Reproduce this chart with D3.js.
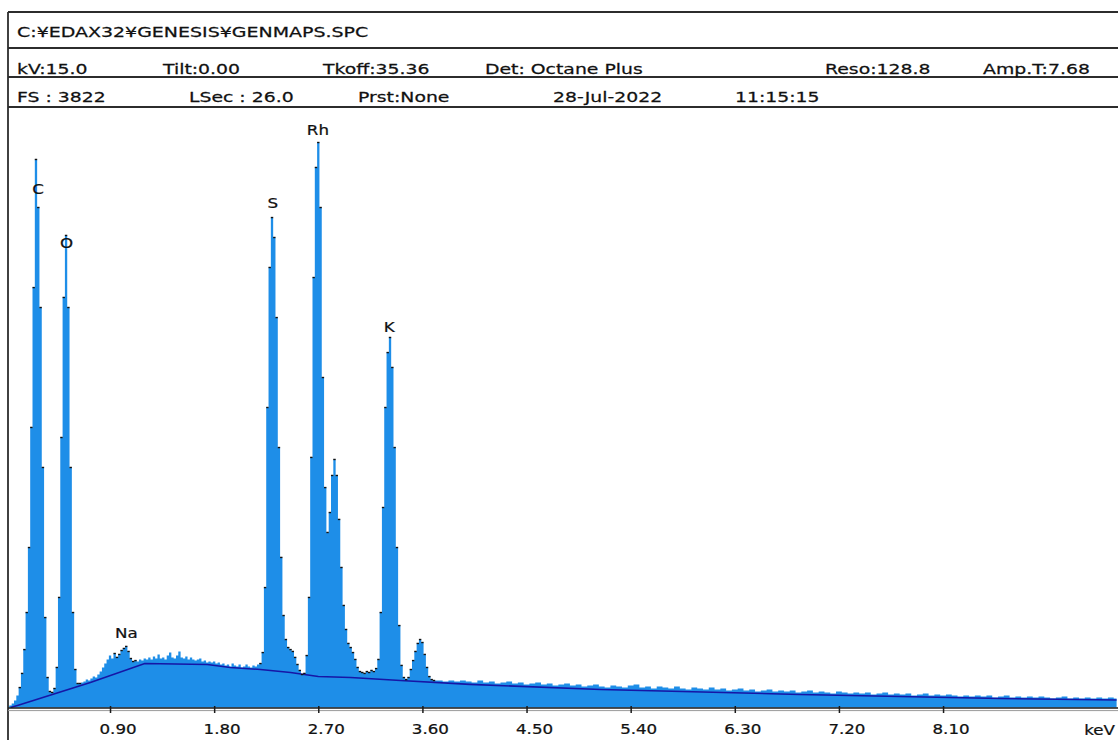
<!DOCTYPE html>
<html>
<head>
<meta charset="utf-8">
<script src="https://cdn.jsdelivr.net/npm/d3@7"></script>
<style>
  body { margin: 0; background: #fff; }
  svg { display: block; font-family: "DejaVu Sans", Verdana, sans-serif; }
</style>
</head>
<body>
<div id="chart"></div>
<script>
// header texts
const titleText = "C:¥EDAX32¥GENESIS¥GENMAPS.SPC";
const infoRow1 = ["kV:15.0", "Tilt:0.00", "Tkoff:35.36", "Det: Octane Plus", "Reso:128.8", "Amp.T:7.68"];
const infoRow2 = ["FS : 3822", "LSec : 26.0", "Prst:None", "28-Jul-2022", "11:15:15"];
const fullScale = 3822;

// x axis ticks (keV)
const tickValues = [0.90, 1.80, 2.70, 3.60, 4.50, 5.40, 6.30, 7.20, 8.10];
const tickLabels = ["0.90", "1.80", "2.70", "3.60", "4.50", "5.40", "6.30", "7.20", "8.10"];
const unitLabel = "keV";

// spectrum counts, channels 0.02 .. 3.70 keV every 0.02 keV
const lowStep = 0.02;
const lowCounts = [
  6, 13, 25, 45, 76, 127, 217, 369, 605, 1019,
  1784, 2675, 3491, 3185, 2548, 1529, 573, 191, 102, 96,
  121, 255, 701, 1720, 2612, 3007, 2548, 1529, 605, 242,
  153, 153, 159, 166, 178, 172, 185, 197, 191, 210,
  229, 255, 280, 306, 331, 312, 344, 319, 338, 363,
  376, 389, 357, 312, 293, 299, 293, 306, 299, 312,
  306, 319, 306, 325, 312, 338, 312, 319, 306, 331,
  350, 319, 312, 331, 357, 319, 312, 325, 306, 319,
  306, 299, 306, 312, 293, 299, 287, 293, 287, 293,
  280, 287, 274, 280, 268, 274, 261, 280, 268, 261,
  274, 255, 261, 274, 261, 255, 268, 261, 274, 280,
  350, 764, 1911, 2803, 3121, 2994, 2484, 1656, 956, 586,
  433, 382, 369, 357, 319, 274, 236, 210, 217, 331,
  701, 1593, 2739, 3440, 3599, 3185, 2102, 1401, 1115, 1242,
  1478, 1580, 1478, 1198, 892, 650, 497, 408, 382, 350,
  306, 255, 229, 223, 217, 229, 223, 236, 229, 248,
  306, 605, 1274, 1911, 2261, 2357, 2166, 1656, 1019, 522,
  268, 191, 178, 191, 242, 299, 357, 408, 433, 414,
  338, 255, 197, 178, 172
];

// spectrum counts, 3.75 .. 9.60 keV every 0.05 keV
const highStart = 3.75;
const highStep = 0.05;
const highCounts = [
  172, 166, 172, 166, 172, 166, 159, 172, 159, 166,
  153, 159, 166, 153, 159, 147, 153, 159, 147, 153,
  140, 147, 153, 140, 147, 134, 140, 147, 134, 127,
  140, 134, 127, 140, 147, 127, 134, 121, 134, 127,
  121, 134, 121, 115, 127, 121, 115, 127, 115, 121,
  108, 115, 121, 108, 115, 102, 108, 115, 102, 108,
  102, 108, 96, 102, 108, 96, 102, 96, 89, 102,
  96, 89, 96, 89, 96, 83, 89, 96, 83, 89,
  83, 89, 76, 83, 89, 76, 83, 76, 83, 76,
  70, 76, 70, 76, 70, 76, 64, 70, 76, 64,
  70, 64, 70, 64, 70, 64, 57, 64, 70, 57,
  64, 57, 64, 57, 64, 57, 64, 57
];

// background (continuum) fit
const bgEnergy = [0.04, 0.10, 0.73, 1.20, 1.74, 1.94, 2.20, 2.46, 2.70, 2.98, 3.41, 4.01, 5.14, 6.86, 8.59, 9.60];
const bgCounts = [0, 13, 159, 280, 274, 255, 242, 223, 197, 191, 172, 147, 115, 83, 57, 48];

// element labels
const peakNames = ["C", "O", "Na", "S", "Rh", "K"];
const peakEnergy = [0.277, 0.525, 1.041, 2.307, 2.697, 3.313];
const peakLabelCounts = [3274, 2924, 440, 3185, 3644, 2395];

// energy ranges where the fitted peaks are marked
const fitWindows = [[0.12, 0.40], [0.42, 0.64], [0.94, 1.12], [2.20, 3.72]];

// ---- build spectrum table
const spectrum = lowCounts.map((c, i) => ({ e: +((i + 1) * lowStep).toFixed(2), c }))
  .concat(highCounts.map((c, i) => ({ e: +(highStart + i * highStep).toFixed(2), c })));
const background = bgEnergy.map((e, i) => ({ e, c: bgCounts[i] }));

const W = 1118, H = 740;
const plot = { left: 8, right: 1117, top: 107, bottom: 708 };

const svg = d3.select("#chart").append("svg")
  .attr("width", W).attr("height", H);

const x = d3.scaleLinear().domain([0, 9.6]).range([5.9, 1116.6]);
const y = d3.scaleLinear().domain([0, fullScale]).range([707.5, 107.5]);

function stretchText(g, str, tx, ty, size, sx, anchor) {
  return g.append("text")
    .attr("transform", `translate(${tx},${ty}) scale(${sx},1)`)
    .attr("text-anchor", anchor || "start")
    .style("font-size", size + "px")
    .attr("fill", "#111")
    .attr("stroke", "#111")
    .attr("stroke-width", 0.25)
    .text(str);
}

// clip for plot
svg.append("clipPath").attr("id", "plotClip")
  .append("rect")
  .attr("x", plot.left + 1).attr("y", plot.top + 1)
  .attr("width", plot.right - plot.left - 1).attr("height", plot.bottom - plot.top - 1);

const pg = svg.append("g").attr("clip-path", "url(#plotClip)");

// spectrum fill
const area = d3.area()
  .x(d => x(d.e))
  .y0(y(0))
  .y1(d => y(d.c))
  .curve(d3.curveStep);

pg.append("path")
  .datum(spectrum)
  .attr("d", area)
  .attr("fill", "#1e8ee8");

// background line
pg.append("path")
  .datum(background)
  .attr("d", d3.line().x(d => x(d.e)).y(d => y(d.c)))
  .attr("fill", "none")
  .attr("stroke", "#1616a6")
  .attr("stroke-width", 1.6);

// fit markers on peaks
const marked = spectrum.filter(d => fitWindows.some(w => d.e >= w[0] && d.e <= w[1]));
pg.selectAll(".fitmark")
  .data(marked)
  .enter()
  .append("rect")
  .attr("class", "fitmark")
  .attr("x", d => x(d.e) - 1.2)
  .attr("y", d => y(d.c) - 0.7)
  .attr("width", 2.4)
  .attr("height", 1.4)
  .attr("fill", "#111");

// element labels
peakNames.forEach((name, i) => {
  stretchText(svg, name, x(peakEnergy[i]), y(peakLabelCounts[i]), 14.5, 1.15, "middle");
});

// frame and header lines
const frame = svg.append("g").attr("stroke", "#2c2c2c").attr("stroke-width", 1.8).attr("fill", "none");
frame.append("line").attr("x1", plot.left).attr("x2", plot.left).attr("y1", 12).attr("y2", H);
[12, 48, 77, 107].forEach(yy => {
  frame.append("line").attr("x1", plot.left).attr("x2", W).attr("y1", yy).attr("y2", yy);
});

const hdr = svg.append("g");
stretchText(hdr, titleText, 17, 37, 14.5, 1.31);
const row1X = [17, 163, 323, 485, 825, 983];
infoRow1.forEach((t, i) => stretchText(hdr, t, row1X[i], 74, 14.5, 1.3));
const row2X = [17, 189, 358, 553, 735];
infoRow2.forEach((t, i) => stretchText(hdr, t, row2X[i], 101.5, 14.5, 1.3));

// x axis
svg.append("line").attr("x1", plot.left).attr("x2", W)
  .attr("y1", 708).attr("y2", 708).attr("stroke", "#1a1a1a").attr("stroke-width", 1.6);
svg.append("line").attr("x1", plot.left).attr("x2", W)
  .attr("y1", 710.6).attr("y2", 710.6).attr("stroke", "#9a9a9a").attr("stroke-width", 1);

const xAxis = d3.axisBottom(x)
  .tickValues(tickValues)
  .tickSize(5)
  .tickFormat((d, i) => tickLabels[i]);

const ax = svg.append("g")
  .attr("transform", "translate(0,708)")
  .call(xAxis);
ax.select(".domain").remove();
ax.selectAll(".tick line")
  .attr("y1", -2).attr("y2", 5)
  .attr("stroke", "#1a1a1a").attr("stroke-width", 1.5);
ax.selectAll(".tick text")
  .attr("y", null).attr("dy", null)
  .attr("transform", "translate(7.5,26) scale(1.15,1)")
  .attr("fill", "#111")
  .attr("stroke", "#111")
  .attr("stroke-width", 0.25)
  .style("font-size", "14.5px")
  .style("font-family", "'DejaVu Sans', Verdana, sans-serif");

stretchText(svg, unitLabel, 1115, 734.5, 14.5, 1.15, "end");
</script>
</body>
</html>
